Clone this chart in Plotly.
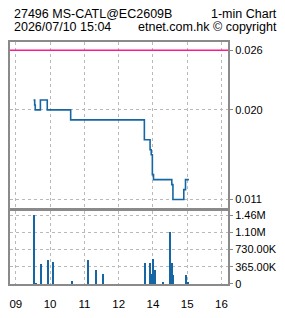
import plotly.graph_objects as go

# ---- data ----
title_code = "27496 MS-CATL@EC2609B"
title_time = "2026/07/10 15:04"
chart_type = "1-min Chart"
source = "etnet.com.hk \u00a9 copyright"

prev_close = 0.026

price_times = ["09:31", "09:33", "09:34", "09:43", "09:55", "10:36", "13:45", "13:55",
               "13:57", "13:59", "14:01", "14:33", "14:35", "14:54", "14:57", "15:03"]
price_values = [0.021, 0.0205, 0.020, 0.021, 0.020, 0.019, 0.017, 0.016,
                0.0155, 0.0135, 0.013, 0.0125, 0.011, 0.012, 0.013, 0.013]

vol_times = ["09:33", "09:35", "09:45", "09:57", "10:06", "10:38", "11:06", "11:21", "11:33",
             "13:47", "13:55", "13:59", "14:01", "14:04", "14:18", "14:31", "14:34", "14:36",
             "14:58", "15:02"]
vol_values = [1460000, 15000, 417000, 504000, 458000, 54000, 504000, 302000, 202000,
              437000, 437000, 202000, 518000, 296000, 34000, 1100000, 437000, 196000,
              196000, 34000]

x_tick_labels = ["09", "10", "11", "12", "14", "15", "16"]
price_ticks = [0.011, 0.020, 0.026]
price_tick_labels = ["0.011", "0.020", "0.026"]
vol_ticks = [0, 365000, 730000, 1095000, 1460000]
vol_tick_labels = ["0", "365.00K", "730.00K", "1.10M", "1.46M"]


def trade_pos(t):
    h, m = map(int, t.split(":"))
    v = h + m / 60.0
    if h >= 13:  # lunch break removed
        v -= 1.0
    return v


px_ = [trade_pos(t) for t in price_times]
vx_ = [trade_pos(t) for t in vol_times]
tick_pos = [trade_pos(l + ":00") for l in x_tick_labels]

BLUE = "#1666a3"
GRID = "#b9b9b9"
FRAME = "#8a8a8a"
FONT = "Liberation Sans"

fig = go.Figure()
fig.add_trace(go.Scatter(x=px_, y=price_values, mode="lines",
                         line=dict(color=BLUE, width=1.6, shape="hv"),
                         xaxis="x", yaxis="y", hoverinfo="skip"))
fig.add_trace(go.Bar(x=vx_, y=vol_values, marker=dict(color=BLUE, line=dict(width=0)),
                     width=0.045, xaxis="x2", yaxis="y2", hoverinfo="skip"))

fig.add_shape(type="line", xref="x domain", yref="y", x0=0, x1=1,
              y0=prev_close, y1=prev_close, line=dict(color="#ff1a8c", width=1.5))

xcommon = dict(range=[8.83, 15.19], tickvals=tick_pos, showgrid=True, gridcolor=GRID,
               griddash="dot", gridwidth=1, showline=True, linecolor=FRAME, linewidth=2,
               mirror=True, zeroline=False, fixedrange=True, ticks="")
ycommon = dict(side="right", showgrid=True, gridcolor=GRID, griddash="dot", gridwidth=1,
               showline=True, linecolor=FRAME, linewidth=2, mirror=True, zeroline=False,
               ticks="outside", ticklen=3, tickcolor=FRAME,
               tickfont=dict(family=FONT, size=11, color="#000"), fixedrange=True)

fig.update_layout(
    width=285, height=318,
    margin=dict(l=8, r=55, t=42, b=20),
    paper_bgcolor="white", plot_bgcolor="white",
    showlegend=False,
    xaxis=dict(**xcommon, domain=[0, 1], anchor="y", showticklabels=False),
    yaxis=dict(**ycommon, domain=[0.316, 1], anchor="x", range=[0.0102, 0.02682],
               tickvals=price_ticks, ticktext=price_tick_labels),
    xaxis2=dict(**xcommon, domain=[0, 1], anchor="y2", ticktext=x_tick_labels,
                ticklabelstandoff=8,
                tickfont=dict(family=FONT, size=11.5, color="#000")),
    yaxis2=dict(**ycommon, domain=[0, 0.301], anchor="x2", range=[0, 1547000],
                tickvals=vol_ticks, ticktext=vol_tick_labels),
    bargap=0,
)

tfont = dict(family=FONT, size=12.5, color="#000")
fig.add_annotation(text=title_code, xref="paper", yref="paper", x=0.009, y=1.115,
                   xanchor="left", yanchor="middle", showarrow=False, font=tfont)
fig.add_annotation(text=chart_type, xref="paper", yref="paper", x=1.234, y=1.115,
                   xanchor="right", yanchor="middle", showarrow=False, font=tfont)
fig.add_annotation(text=title_time, xref="paper", yref="paper", x=0.009, y=1.06,
                   xanchor="left", yanchor="middle", showarrow=False, font=tfont)
fig.add_annotation(text=source, xref="paper", yref="paper", x=1.234, y=1.06,
                   xanchor="right", yanchor="middle", showarrow=False, font=tfont)

fig.write_html("out.html", config={"displayModeBar": False})
